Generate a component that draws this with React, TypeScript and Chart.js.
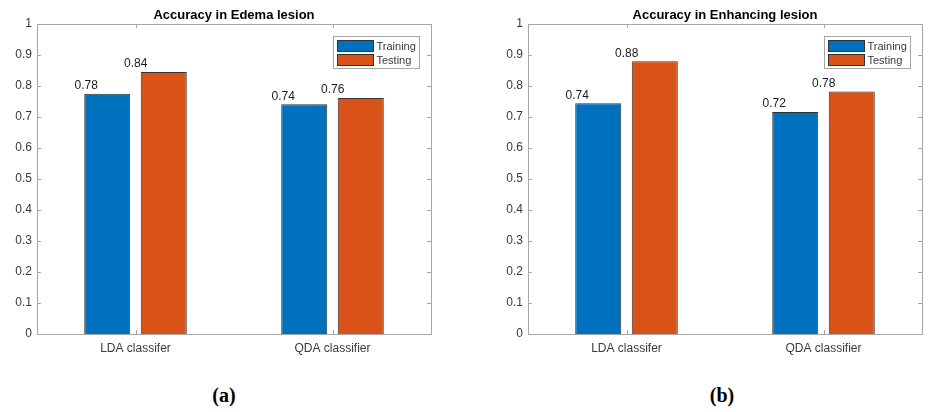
import React, { useEffect, useRef } from "react";
import { Chart, registerables } from "chart.js";

Chart.register(...registerables);

const categories = ["LDA classifer", "QDA classifier"];
const seriesNames = ["Training", "Testing"];

const edemaTraining = [0.775, 0.741];
const edemaTesting = [0.845, 0.761];
const edemaTrainingLabels = ["0.78", "0.74"];
const edemaTestingLabels = ["0.84", "0.76"];

const enhTraining = [0.744, 0.716];
const enhTesting = [0.88, 0.782];
const enhTrainingLabels = ["0.74", "0.72"];
const enhTestingLabels = ["0.88", "0.78"];

const yMin = 0;
const yMax = 1;
const yStep = 0.1;

const BLUE = "#0072BD";
const ORANGE = "#D95319";
const FRAME = "#a6a6a6";
const TEXT = "#3a3a3a";
const FONT = "'Liberation Sans', Arial, Helvetica, sans-serif";

const framePlugin = {
  id: "matlabFrame",
  afterDatasetsDraw(chart: any) {
    const { ctx, chartArea } = chart;
    const { left, right, top, bottom } = chartArea;
    const L = 4;
    ctx.save();
    ctx.strokeStyle = FRAME;
    ctx.lineWidth = 1;
    ctx.beginPath();
    const ys = chart.scales.y;
    ys.ticks.forEach((t: any) => {
      const py = Math.round(ys.getPixelForValue(t.value)) + 0.5;
      ctx.moveTo(left, py);
      ctx.lineTo(left + L, py);
      ctx.moveTo(right, py);
      ctx.lineTo(right - L, py);
    });
    const xs = chart.scales.x;
    xs.ticks.forEach((_t: any, i: number) => {
      const px = Math.round(xs.getPixelForTick(i)) + 0.5;
      ctx.moveTo(px, bottom);
      ctx.lineTo(px, bottom - L);
      ctx.moveTo(px, top);
      ctx.lineTo(px, top + L);
    });
    ctx.stroke();
    ctx.strokeRect(Math.round(left) + 0.5, Math.round(top) + 0.5, Math.round(right - left), Math.round(bottom - top));
    ctx.restore();
  },
};

const valueLabelPlugin = {
  id: "valueLabels",
  afterDatasetsDraw(chart: any, _args: any, opts: any) {
    const { ctx } = chart;
    ctx.save();
    ctx.font = `12px ${FONT}`;
    ctx.fillStyle = "#1a1a1a";
    ctx.textAlign = "center";
    ctx.textBaseline = "bottom";
    chart.data.datasets.forEach((_ds: any, di: number) => {
      const meta = chart.getDatasetMeta(di);
      const labels = opts.labels[di];
      meta.data.forEach((bar: any, j: number) => {
        ctx.fillText(labels[j], bar.x + opts.offsets[di], bar.y - 2);
      });
    });
    ctx.restore();
  },
};

const legendPlugin = {
  id: "insideLegend",
  afterDraw(chart: any) {
    const { ctx, chartArea } = chart;
    const w = 86;
    const h = 32;
    const x = Math.round(chartArea.right - 12 - w) + 0.5;
    const y = Math.round(chartArea.top + 12) + 0.5;
    ctx.save();
    ctx.fillStyle = "#ffffff";
    ctx.fillRect(x, y, w, h);
    ctx.strokeStyle = FRAME;
    ctx.lineWidth = 1;
    ctx.strokeRect(x, y, w, h);
    ctx.font = `11px ${FONT}`;
    ctx.textBaseline = "middle";
    ctx.textAlign = "left";
    chart.data.datasets.forEach((ds: any, i: number) => {
      const cy = y + 9 + i * 14;
      ctx.fillStyle = ds.backgroundColor;
      ctx.fillRect(x + 4, cy - 5, 36, 11);
      ctx.strokeStyle = "#333333";
      ctx.strokeRect(x + 4, cy - 5, 36, 11);
      ctx.fillStyle = TEXT;
      ctx.fillText(ds.label, x + 43, cy + 1);
    });
    ctx.restore();
  },
};

interface PanelProps {
  title: string;
  training: number[];
  testing: number[];
  trainingLabels: string[];
  testingLabels: string[];
  axisWidth: number;
  rightPad: number;
  width: number;
  left: number;
}

function Panel(p: PanelProps) {
  const ref = useRef<HTMLCanvasElement | null>(null);
  useEffect(() => {
    if (!ref.current) return;
    const chart = new Chart(ref.current, {
      type: "bar",
      data: {
        labels: categories,
        datasets: [
          {
            label: seriesNames[0],
            data: p.training,
            backgroundColor: BLUE,
            borderColor: "#333333",
            borderWidth: 1,
            categoryPercentage: 0.574,
            barPercentage: 0.814,
          },
          {
            label: seriesNames[1],
            data: p.testing,
            backgroundColor: ORANGE,
            borderColor: "#333333",
            borderWidth: 1,
            categoryPercentage: 0.574,
            barPercentage: 0.814,
          },
        ],
      },
      options: {
        animation: false,
        responsive: false,
        maintainAspectRatio: false,
        layout: { padding: { left: 0, right: p.rightPad, top: 0, bottom: 0 } },
        plugins: {
          legend: { display: false },
          tooltip: { enabled: false },
          title: {
            display: true,
            text: p.title,
            fullSize: false,
            color: "#000000",
            font: { family: FONT, size: 13, weight: "bold", lineHeight: 1 },
            padding: { top: 8.5, bottom: 2.5 },
          },
          valueLabels: {
            labels: [p.trainingLabels, p.testingLabels],
            offsets: [-21, -28],
          },
        } as any,
        scales: {
          x: {
            offset: true,
            grid: { display: false, drawTicks: false },
            border: { display: false },
            ticks: { color: TEXT, font: { family: FONT, size: 12 }, padding: 7, maxRotation: 0 },
            afterFit: (s: any) => {
              s.height = 26;
            },
          },
          y: {
            min: yMin,
            max: yMax,
            grid: { display: false, drawTicks: false },
            border: { display: false },
            ticks: {
              stepSize: yStep,
              color: TEXT,
              font: { family: FONT, size: 12 },
              padding: 5,
              callback: (v: any) => String(Number(Number(v).toFixed(1))),
            },
            afterFit: (s: any) => {
              s.width = p.axisWidth;
            },
          },
        },
      },
      plugins: [framePlugin, valueLabelPlugin, legendPlugin],
    });
    return () => chart.destroy();
  }, []);
  return (
    <canvas
      ref={ref}
      width={p.width}
      height={360}
      style={{ position: "absolute", left: p.left, top: 0, width: p.width, height: 360 }}
    />
  );
}

export default function App() {
  const cap: React.CSSProperties = {
    position: "absolute",
    top: 382,
    width: 60,
    textAlign: "center",
    fontFamily: "'Liberation Serif', 'Times New Roman', serif",
    fontWeight: "bold",
    fontSize: 20,
    lineHeight: "26px",
    color: "#000",
  };
  return (
    <div style={{ position: "absolute", left: 0, top: 0, width: 939, height: 412, background: "#fff", overflow: "hidden" }}>
      <Panel
        title="Accuracy in Edema lesion"
        training={edemaTraining}
        testing={edemaTesting}
        trainingLabels={edemaTrainingLabels}
        testingLabels={edemaTestingLabels}
        axisWidth={37}
        rightPad={39}
        width={470}
        left={0}
      />
      <Panel
        title="Accuracy in Enhancing lesion"
        training={enhTraining}
        testing={enhTesting}
        trainingLabels={enhTrainingLabels}
        testingLabels={enhTestingLabels}
        axisWidth={58}
        rightPad={17}
        width={469}
        left={470}
      />
      <div style={{ ...cap, left: 224 - 30 }}>(a)</div>
      <div style={{ ...cap, left: 722 - 30 }}>(b)</div>
    </div>
  );
}
